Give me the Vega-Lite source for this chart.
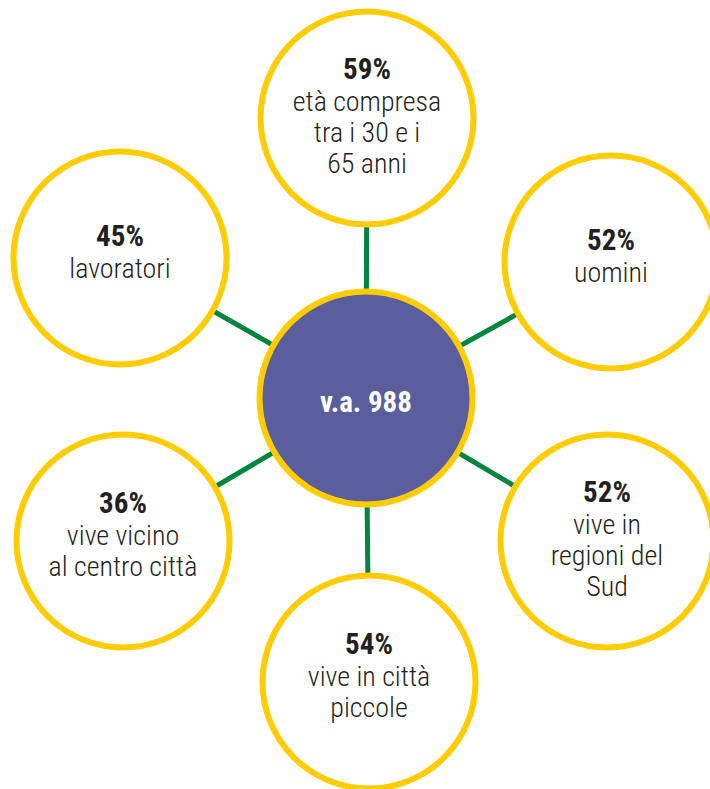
{
  "$schema": "https://vega.github.io/schema/vega-lite/v6.json",
  "width": 710,
  "height": 789,
  "padding": 0,
  "autosize": {"type": "none"},
  "background": "white",
  "config": {"view": {"stroke": null}, "text": {"font": "Roboto Condensed, Open Sans Condensed, Liberation Sans Narrow, Roboto, sans-serif"}},
  "data": {
    "values": [
      {"id": "hub", "role": "hub", "n": 0, "x": 366, "y": 398, "hx": 366, "hy": 398, "pct": "v.a. 988", "desc": []},
      {"id": "eta", "role": "node", "n": 3, "x": 367, "y": 118, "hx": 366, "hy": 398, "pct": "59%", "desc": ["età compresa", "tra i 30 e i", "65 anni"]},
      {"id": "lavoratori", "role": "node", "n": 1, "x": 120, "y": 258, "hx": 366, "hy": 398, "pct": "45%", "desc": ["lavoratori"]},
      {"id": "uomini", "role": "node", "n": 1, "x": 611, "y": 262, "hx": 366, "hy": 398, "pct": "52%", "desc": ["uomini"]},
      {"id": "centro", "role": "node", "n": 2, "x": 123, "y": 541, "hx": 366, "hy": 398, "pct": "36%", "desc": ["vive vicino", "al centro città"]},
      {"id": "sud", "role": "node", "n": 3, "x": 607, "y": 541, "hx": 366, "hy": 398, "pct": "52%", "desc": ["vive in", "regioni del", "Sud"]},
      {"id": "piccole", "role": "node", "n": 2, "x": 369, "y": 682, "hx": 366, "hy": 398, "pct": "54%", "desc": ["vive in città", "piccole"]}
    ]
  },
  "encoding": {
    "x": {"field": "x", "type": "quantitative", "scale": {"domain": [0, 710], "nice": false, "zero": false}, "axis": null},
    "y": {"field": "y", "type": "quantitative", "scale": {"domain": [0, 789], "nice": false, "zero": false, "reverse": true}, "axis": null}
  },
  "layer": [
    {
      "transform": [{"filter": "datum.role === 'node'"}],
      "mark": {"type": "rule", "color": "#00853F", "strokeWidth": 5},
      "encoding": {
        "x2": {"field": "hx"},
        "y2": {"field": "hy"}
      }
    },
    {
      "mark": {"type": "point", "shape": "circle", "filled": false, "stroke": "#FFCC00", "strokeWidth": 6, "size": 45369, "opacity": 1, "fillOpacity": 1},
      "encoding": {
        "fill": {"field": "role", "type": "nominal", "scale": {"domain": ["hub", "node"], "range": ["#5A5E9D", "#FFFFFF"]}, "legend": null}
      }
    },
    {
      "transform": [{"filter": "datum.n === 1"}],
      "mark": {"type": "text", "fontSize": 29, "fontWeight": "bold", "baseline": "middle", "align": "center", "color": "#231F20", "dy": -21},
      "encoding": {"text": {"field": "pct"}}
    },
    {
      "transform": [{"filter": "datum.n === 1"}],
      "mark": {"type": "text", "fontSize": 28, "fontWeight": 300, "lineHeight": 31, "baseline": "middle", "align": "center", "color": "#231F20", "dy": 12},
      "encoding": {"text": {"field": "desc"}}
    },
    {
      "transform": [{"filter": "datum.n === 2"}],
      "mark": {"type": "text", "fontSize": 29, "fontWeight": "bold", "baseline": "middle", "align": "center", "color": "#231F20", "dy": -37},
      "encoding": {"text": {"field": "pct"}}
    },
    {
      "transform": [{"filter": "datum.n === 2"}],
      "mark": {"type": "text", "fontSize": 28, "fontWeight": 300, "lineHeight": 31, "baseline": "middle", "align": "center", "color": "#231F20", "dy": -4},
      "encoding": {"text": {"field": "desc"}}
    },
    {
      "transform": [{"filter": "datum.n === 3"}],
      "mark": {"type": "text", "fontSize": 29, "fontWeight": "bold", "baseline": "middle", "align": "center", "color": "#231F20", "dy": -48},
      "encoding": {"text": {"field": "pct"}}
    },
    {
      "transform": [{"filter": "datum.n === 3"}],
      "mark": {"type": "text", "fontSize": 28, "fontWeight": 300, "lineHeight": 31, "baseline": "middle", "align": "center", "color": "#231F20", "dy": -15},
      "encoding": {"text": {"field": "desc"}}
    },
    {
      "transform": [{"filter": "datum.role === 'hub'"}],
      "mark": {"type": "text", "fontSize": 29, "fontWeight": "bold", "baseline": "middle", "align": "center", "color": "#FFFFFF", "dy": 5},
      "encoding": {"text": {"field": "pct"}}
    }
  ]
}
